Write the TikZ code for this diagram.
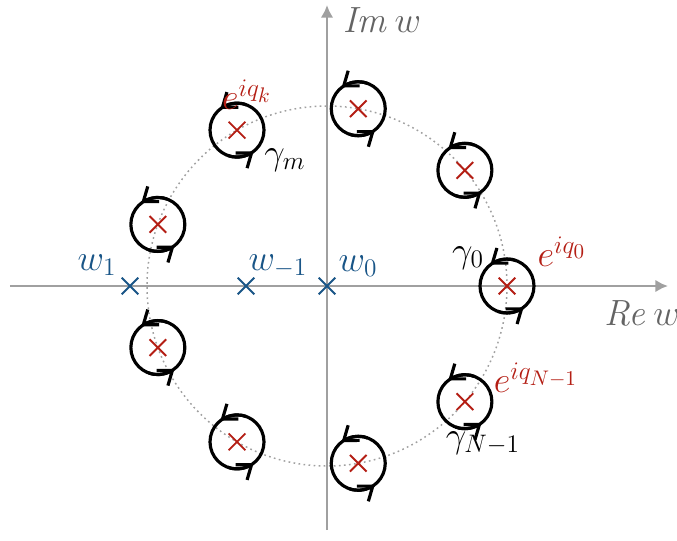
\documentclass[tikz,border=0pt]{standalone}
\usepackage{amsmath}
\usepackage{xcolor}
\usetikzlibrary{arrows.meta, bending, shapes.misc, positioning}
\definecolor{qred}{RGB}{180,30,20}
\definecolor{wblue}{RGB}{25,85,135}
\definecolor{axgray}{RGB}{160,160,160}
\definecolor{lblgray}{RGB}{100,100,100}

\begin{document}
\begin{tikzpicture}[x=0.4743pt, y=0.4743pt,
    axis/.style={draw=axgray, line width=1.4pt, -{Latex[length=6pt,width=6pt]}},
    ring/.style={draw=axgray, line width=0.7pt, dash pattern=on 0.8pt off 1.6pt},
    xmark/.style={cross out, draw, inner sep=0pt, minimum size=7pt, line width=0.9pt},
    loopc/.style={draw, line width=1.5pt},
    looparr/.style={line width=1.5pt, -{Straight Barb[length=6pt,width=9pt,flex]}},
    every node/.style={font=\fontsize{17.28}{20}\selectfont}]
  \useasboundingbox (-327,-254) rectangle (350,286);
  % axes
  \coordinate (xl) at (-317,0); \coordinate (xr) at (341,0);
  \coordinate (yb) at (0,-244); \coordinate (yt) at (0,281);
  \draw[axis] (xl) -- (xr);
  \draw[axis] (yb) -- (yt);
  \node[text=lblgray] (re) at (315,-27) {$\mathit{Re}\,w$};
  \node[text=lblgray] (im) at (55,266) {$\mathit{Im}\,w$};
  % unit circle with the points e^{iq}
  \draw[ring] (0,0) circle[radius=180];
  \foreach \a [count=\i from 0] in {0,40,...,320} {
    \node[xmark, draw=qred] (z\i) at (\a:180) {};
    \draw[loopc] (z\i) circle[radius=27];
    \draw[looparr] ([shift={(70:27)}]z\i) arc[start angle=70, end angle=128, radius=27];
    \draw[looparr] ([shift={(250:27)}]z\i) arc[start angle=250, end angle=308, radius=27];
  }
  % points w on the real axis
  \node[xmark, draw=wblue] (w1) at (-197,0) {};
  \node[xmark, draw=wblue] (wm) at (-81,0) {};
  \node[xmark, draw=wblue] (w0) at (0,0) {};
  \node[text=wblue] at (-230,21) {$w_1$};
  \node[text=wblue] at (-49,20) {$w_{-1}$};
  \node[text=wblue] at (31,20) {$w_0$};
  % labels
  \node[text=qred] at (-80,191) {$e^{iq_k}$};
  \node[text=qred] at (235,34) {$e^{iq_0}$};
  \node[text=qred] at (209,-92) {$e^{iq_{N-1}}$};
  \node at (-42,126) {$\gamma_m$};
  \node at (141,28) {$\gamma_0$};
  \node at (156,-157) {$\gamma_{N-1}$};
\end{tikzpicture}
\end{document}
